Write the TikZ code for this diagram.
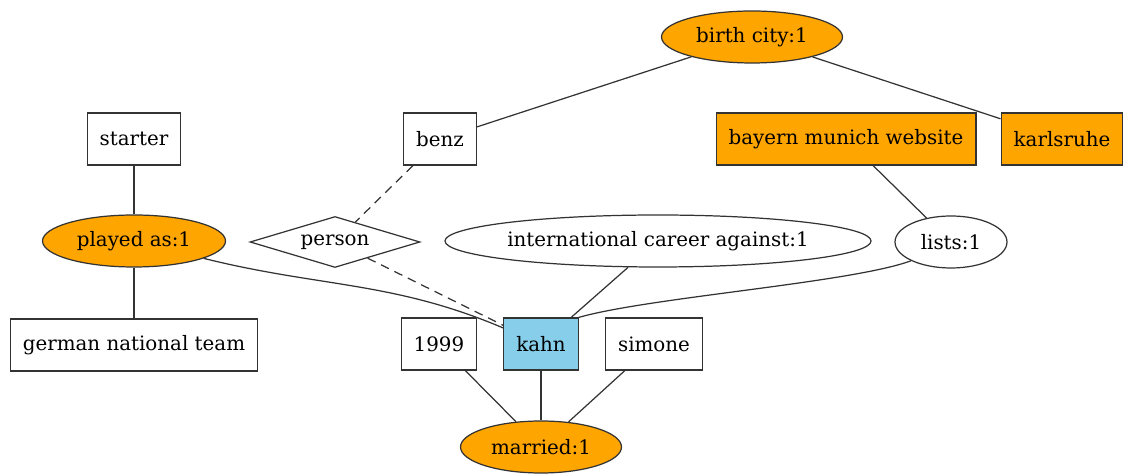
\documentclass[tikz,border=0pt]{standalone}
\usepackage{fontspec}
\setmainfont{DejaVu Serif}
\usetikzlibrary{shapes.geometric}
\definecolor{skyblue}{RGB}{135,206,235}
\definecolor{hitorange}{RGB}{255,165,0}

\begin{document}
\begin{tikzpicture}[x=0.02cm,y=-0.02cm,line width=0.7pt,
    font=\fontsize{11.3}{13}\selectfont,
    ent/.style={draw=black!80,rectangle,minimum height=1.04cm,inner xsep=0.25cm},
    rel/.style={draw=black!80,ellipse,minimum height=1.04cm,inner sep=0pt},
    hit/.style={fill=hitorange}]

  \useasboundingbox (0,0) rectangle (1123,475);

  % top row
  \node [rel,hit,minimum width=3.62cm] (birthcity) at (752,37) {birth city:1};

  \node [ent] (starter) at (134,139) {starter};
  \node [ent] (benz) at (440,139) {benz};
  \node [ent,hit] (bayern) at (846,139) {bayern munich website};
  \node [ent,hit] (karlsruhe) at (1062,139) {karlsruhe};

  % relations
  \node [rel,hit,minimum width=3.66cm] (playedas) at (134,241) {played as:1};
  \node [draw=black!80,diamond,aspect=3.3,inner sep=0pt,minimum width=3.4cm,minimum height=1.02cm] (person) at (335,242) {person};
  \node [rel,minimum width=8.5cm] (career) at (658,241) {international career against:1};
  \node [rel,minimum width=2.24cm] (lists) at (951,242) {lists:1};

  % bottom rows
  \node [ent] (gnt) at (134,345) {german national team};
  \node [ent] (y1999) at (439,344) {1999};
  \node [ent,fill=skyblue] (kahn) at (541,344) {kahn};
  \node [ent] (simone) at (654,344) {simone};
  \node [rel,hit,minimum width=3.22cm] (married) at (541,447) {married:1};

  \path [draw,black!80]
    (birthcity) edge (benz)
    (birthcity) edge (karlsruhe)
    (starter) edge (playedas)
    (playedas) edge (gnt)
    (bayern) edge (lists)
    (career) edge (kahn)
    (y1999) edge (married)
    (kahn) edge (married)
    (simone) edge (married);

  \path [draw,black!80,dash pattern=on 5pt off 3.5pt]
    (benz) edge (person)
    (person) edge (kahn);

  \draw [black!80] (playedas) to[out=-14,in=157] (kahn);
  \draw [black!80] (lists.south west) .. controls +(-60,22) and +(70,-20) .. (kahn.north east);

\end{tikzpicture}
\end{document}
